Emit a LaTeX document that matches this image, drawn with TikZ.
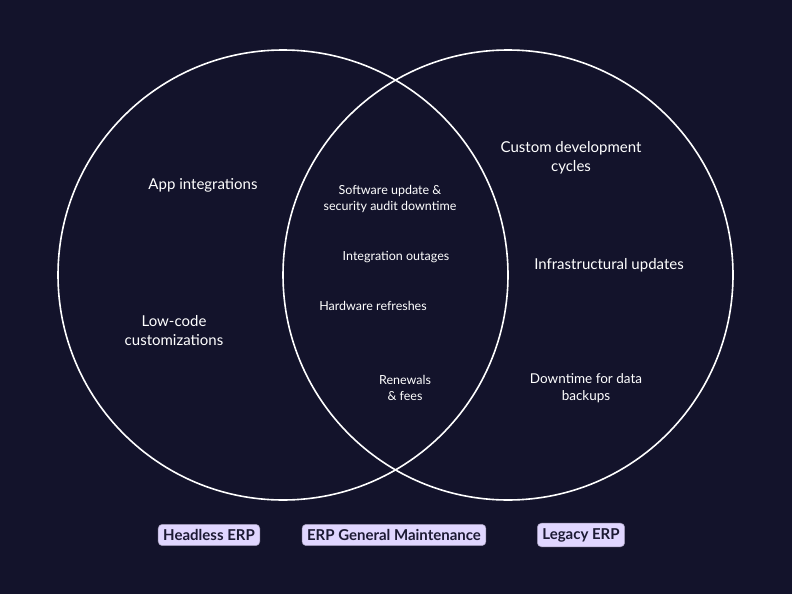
\documentclass[tikz,border=0pt]{standalone}
\usepackage{fontspec}
\setmainfont{Lato}
\usetikzlibrary{positioning}
\definecolor{bgnavy}{HTML}{13132B}
\definecolor{lavender}{HTML}{E0D6FF}
\definecolor{inktext}{HTML}{1C1A33}
\tikzset{
  item/.style={text=white, align=center, font=\fontsize{15}{19}\selectfont},
  smallitem/.style={text=white, align=center, font=\fontsize{12.5}{16}\selectfont},
  tag/.style={fill=lavender, text=inktext, rounded corners=4pt, font=\bfseries\fontsize{15}{17}\selectfont, inner sep=5pt, draw=lavender!70!black, line width=0.5pt},
}
\begin{document}
\begin{tikzpicture}[x=1pt,y=-1pt]
\fill[bgnavy] (0,0) rectangle (792,594);
\useasboundingbox (0,0) rectangle (792,594);
\draw[white, line width=1.6pt] (283,275) circle[radius=225];
\draw[white, line width=1.6pt] (508,275) circle[radius=225];

\node[item] (appint) at (203,185) {App integrations};
\node[item] (lowcode) at (174,331) {Low-code\\customizations};

\node[smallitem] (swupdate) at (390,199) {Software update \&\\security audit downtime};
\node[smallitem] (intout) at (396,257) {Integration outages};
\node[smallitem] (hwref) at (373,306) {Hardware refreshes};
\node[smallitem] (renew) at (405,388) {Renewals\\\& fees};

\node[item] (custdev) at (571,158) {Custom development\\cycles};
\node[item] (infra) at (609,265) {Infrastructural updates};
\node[smallitem, font=\fontsize{13.5}{17}\selectfont] (backup) at (586,388) {Downtime for data\\backups};

\node[tag] (headless) at (209,535) {Headless ERP};
\node[tag] (general) at (394,535) {ERP General Maintenance};
\node[tag] (legacy) at (581,535) {Legacy ERP};
\end{tikzpicture}
\end{document}
